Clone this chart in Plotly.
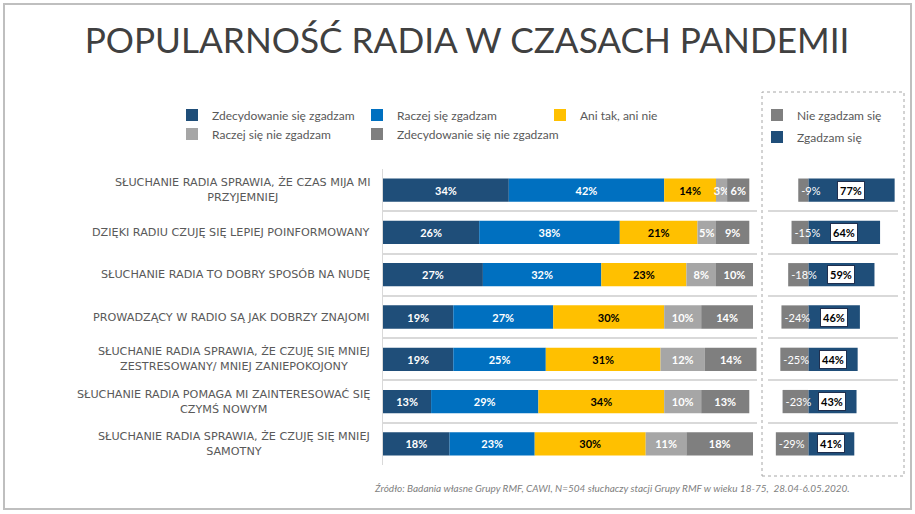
import plotly.graph_objects as go

# ---------------- data ----------------
categories = [
    "SŁUCHANIE RADIA SPRAWIA, ŻE CZAS MIJA MI<br>PRZYJEMNIEJ",
    "DZIĘKI RADIU CZUJĘ SIĘ LEPIEJ POINFORMOWANY",
    "SŁUCHANIE RADIA TO DOBRY SPOSÓB NA NUDĘ",
    "PROWADZĄCY W RADIO SĄ JAK DOBRZY ZNAJOMI",
    "SŁUCHANIE RADIA SPRAWIA, ŻE CZUJĘ SIĘ MNIEJ<br>ZESTRESOWANY/ MNIEJ ZANIEPOKOJONY",
    "SŁUCHANIE RADIA POMAGA MI ZAINTERESOWAĆ SIĘ<br>CZYMŚ NOWYM",
    "SŁUCHANIE RADIA SPRAWIA, ŻE CZUJĘ SIĘ MNIEJ<br>SAMOTNY",
]
series_names = [
    "Zdecydowanie się zgadzam",
    "Raczej się zgadzam",
    "Ani tak, ani nie",
    "Raczej się nie zgadzam",
    "Zdecydowanie się nie zgadzam",
]
strongly_agree = [34, 26, 27, 19, 19, 13, 18]
rather_agree = [42, 38, 32, 27, 25, 29, 23]
neutral = [14, 21, 23, 30, 31, 34, 30]
rather_disagree = [3, 5, 8, 10, 12, 10, 11]
strongly_disagree = [6, 9, 10, 14, 14, 13, 18]

summary_names = ["Nie zgadzam się", "Zgadzam się"]
disagree_total = [-9, -15, -18, -24, -25, -23, -29]
agree_total = [77, 64, 59, 46, 44, 43, 41]

title_text = "POPULARNOŚĆ RADIA W CZASACH PANDEMII"
source_text = ("Źródło: Badania własne Grupy RMF, CAWI, N=504 słuchaczy stacji Grupy RMF "
               "w wieku 18-75,  28.04-6.05.2020.")

# ---------------- styles ----------------
W, H = 915, 514
NAVY, BLUE, YELLOW, LGRAY, DGRAY = "#1F4E79", "#0070C0", "#FFC000", "#A6A6A6", "#7F7F7F"
main_colors = [NAVY, BLUE, YELLOW, LGRAY, DGRAY]
main_text_colors = ["white", "white", "black", "white", "white"]
main_legends = ["legend", "legend", "legend", "legend3", "legend3"]
main_widths = [140, 138, 120, 140, 170]
TXT = "#595959"
FONT = "Lato"

fig = go.Figure()

main_values = [strongly_agree, rather_agree, neutral, rather_disagree, strongly_disagree]
for name, vals, col, tcol, lg, lw in zip(series_names, main_values, main_colors,
                                          main_text_colors, main_legends, main_widths):
    fig.add_trace(go.Bar(
        y=categories, x=vals, name=name, orientation="h",
        marker=dict(color=col, line=dict(width=0)),
        texttemplate="%{x}%", textposition="inside", insidetextanchor="middle",
        textangle=0, constraintext="none", cliponaxis=False,
        textfont=dict(family=FONT, size=11, color=tcol, weight="bold"),
        xaxis="x", yaxis="y", legend=lg, legendwidth=lw, hoverinfo="skip",
    ))

# summary panel: positive bar first so that the negative labels are drawn on top
fig.add_trace(go.Bar(
    y=categories, x=agree_total, name=summary_names[1], orientation="h",
    marker=dict(color=NAVY, line=dict(width=0)),
    xaxis="x2", yaxis="y", legend="legend2", legendgroup="b", legendrank=2,
    hoverinfo="skip",
))
fig.add_trace(go.Bar(
    y=categories, x=disagree_total, name=summary_names[0], orientation="h",
    marker=dict(color=DGRAY, line=dict(width=0)),
    text=[f"{v}%" for v in disagree_total], textposition="inside",
    insidetextanchor="end", textangle=0, constraintext="none", cliponaxis=False,
    textfont=dict(family=FONT, size=11, color="white"),
    xaxis="x2", yaxis="y", legend="legend2", legendgroup="a", legendrank=1,
    hoverinfo="skip",
))

annotations = []
for cat in categories:
    annotations.append(dict(
        xref="paper", yref="y", x=372 / W, y=cat, xanchor="right", yanchor="middle",
        text=cat, align="center", showarrow=False,
        font=dict(family="DejaVu Sans", size=11.2, color=TXT),
    ))
for cat, v in zip(categories, agree_total):
    annotations.append(dict(
        xref="x2", yref="y", x=v / 2, y=cat, text=f"{v}%", showarrow=False,
        bgcolor="white", bordercolor="#1F2F4F", borderwidth=1, borderpad=2,
        font=dict(family=FONT, size=11, color="black", weight="bold"),
    ))
annotations.append(dict(
    xref="paper", yref="paper", x=372 / W, y=1 - 488 / H, xanchor="left", yanchor="middle",
    text=source_text, showarrow=False,
    font=dict(family=FONT, size=10, color="#7F7F7F", style="italic"),
))

legend_font = dict(family=FONT, size=12, color=TXT)
fig.update_layout(
    width=W, height=H, autosize=False,
    margin=dict(l=0, r=0, t=0, b=0),
    paper_bgcolor="white", plot_bgcolor="rgba(0,0,0,0)",
    barmode="relative", bargap=0.45,
    uniformtext=dict(minsize=11, mode="show"),
    title=dict(text=title_text, x=467 / W, xanchor="center", y=1 - 41 / H, yanchor="middle",
               font=dict(family=FONT, size=35.2, color="#404040")),
    xaxis=dict(domain=[383 / W, 756.7 / W], range=[0, 101], showticklabels=False,
               showgrid=False, zeroline=False, fixedrange=True),
    xaxis2=dict(domain=[768 / W, 898 / W], range=[-36, 80], anchor="y",
                showticklabels=False, showgrid=False, zeroline=False, fixedrange=True),
    yaxis=dict(domain=[1 - 465 / H, 1 - 169 / H], type="category",
               categoryorder="array", categoryarray=categories,
               range=[len(categories) - 0.5, -0.5], tickson="boundaries",
               showticklabels=False, ticks="", showgrid=True, gridcolor="#D9D9D9",
               gridwidth=1.5, showline=True, linecolor="#D9D9D9", linewidth=1,
               zeroline=False, fixedrange=True),
    legend=dict(orientation="h", x=172 / W, xanchor="left", y=1 - 115 / H, yanchor="middle",
                font=legend_font, entrywidthmode="pixels", bgcolor="rgba(0,0,0,0)",
                itemclick=False, traceorder="normal"),
    legend3=dict(orientation="h", x=172 / W, xanchor="left", y=1 - 134 / H, yanchor="middle",
                 font=legend_font, entrywidthmode="pixels", bgcolor="rgba(0,0,0,0)",
                 itemclick=False, traceorder="normal"),
    legend2=dict(orientation="v", x=757 / W, xanchor="left", y=1 - 126 / H, yanchor="middle",
                 font=legend_font, bgcolor="rgba(0,0,0,0)", tracegroupgap=3,
                 itemclick=False, traceorder="grouped"),
    annotations=annotations,
    shapes=[
        dict(type="rect", xref="paper", yref="paper", x0=762 / W, x1=904 / W,
             y0=1 - 476 / H, y1=1 - 92 / H, line=dict(color="#A6A6A6", width=1, dash="dot"),
             fillcolor="rgba(0,0,0,0)"),
        dict(type="rect", xref="paper", yref="paper", x0=4 / W, x1=911 / W,
             y0=1 - 509 / H, y1=1 - 4 / H, line=dict(color="#BFBFBF", width=2),
             fillcolor="rgba(0,0,0,0)"),
    ],
)

fig.write_html(
    "out.html",
    config={"displayModeBar": False},
    post_script="document.body.style.margin='0';document.body.style.overflow='hidden';",
)
